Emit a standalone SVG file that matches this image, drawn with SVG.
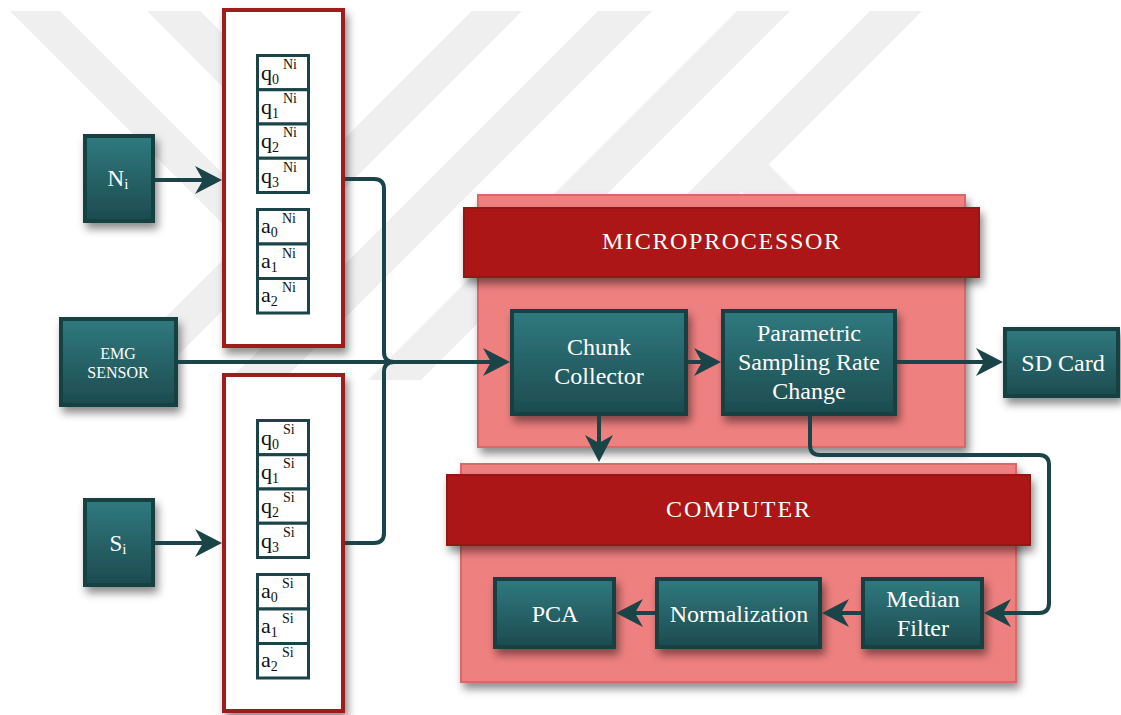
<svg xmlns="http://www.w3.org/2000/svg" width="1121" height="715" viewBox="0 0 1121 715">
  <defs>
    <linearGradient id="tealFill" x1="0" y1="0" x2="0" y2="1">
      <stop offset="0" stop-color="#2f7a7f"/>
      <stop offset="1" stop-color="#1d4b4f"/>
    </linearGradient>
    <filter id="shadow" x="-15%" y="-15%" width="135%" height="145%">
      <feDropShadow dx="3" dy="6" stdDeviation="4" flood-color="#000" flood-opacity="0.45"/>
    </filter>
    <marker id="arrow" markerUnits="userSpaceOnUse" viewBox="-20 -15 30 30" markerWidth="30" markerHeight="30" refX="0" refY="0" orient="auto">
      <path d="M8,0 L-19,-14 L-11,0 L-19,14 Z" fill="#1a4447"/>
    </marker>
  </defs>
  <style>
    .wm { fill: #efefef; }
    .teal { fill: url(#tealFill); stroke: #183f42; stroke-width: 4; }
    .buffer { fill: #ffffff; stroke: #9e1a1a; stroke-width: 4; }
    .cell { fill: #ffffff; stroke: #1a4447; stroke-width: 3; }
    .panel { fill: #ef8080; stroke: #d96767; stroke-width: 2; }
    .header { fill: #ad1616; stroke: #941313; stroke-width: 2; }
    .lbl { font-family: "Liberation Serif", "Times New Roman", serif; fill: #ffffff; text-anchor: middle; font-size: 24px; }
    .lbl.sm { font-size: 16px; }
    .lbl.src { font-size: 23px; }
    .ct { font-family: "Liberation Serif", "Times New Roman", serif; fill: #111111; font-size: 22px; }
    .ct tspan.s { font-size: 14px; }
    .conn { fill: none; stroke: #1a4447; stroke-width: 4; }
  </style>

  <!-- background emblem stripes -->
  <g id="backdrop">
    <rect width="1121" height="715" fill="#ffffff"/>
    <polygon class="wm" points="10,11 60,11 266,217 266,267"/>
    <polygon class="wm" points="147,11 200,11 336,147 334,199"/>
    <polygon class="wm" points="472,11 522,11 153,380 103,380"/>
    <polygon class="wm" points="598,11 652,11 283,380 229,380"/>
    <polygon class="wm" points="737,11 790,11 421,380 368,380"/>
    <polygon class="wm" points="870,11 922,11 553,380 501,380"/>
    <polygon class="wm" points="752,148 904,300 850,300 725,175"/>
  </g>

  <!-- input sources -->
  <g id="node-ni">
    <rect class="teal" x="85" y="136" width="68" height="85" filter="url(#shadow)"/>
    <text class="lbl src" x="118" y="186">N<tspan font-size="15" dy="3">i</tspan></text>
  </g>
  <g id="node-emg">
    <rect class="teal" x="61" y="319" width="115" height="86" filter="url(#shadow)"/>
    <text class="lbl sm" x="118" y="359">EMG</text>
    <text class="lbl sm" x="118" y="378">SENSOR</text>
  </g>
  <g id="node-si">
    <rect class="teal" x="85" y="500" width="68" height="85" filter="url(#shadow)"/>
    <text class="lbl src" x="118" y="551">S<tspan font-size="15" dy="3">i</tspan></text>
  </g>

  <!-- coefficient buffer for N -->
  <g id="node-buffer-ni">
    <rect class="buffer" x="224" y="10" width="119" height="336" filter="url(#shadow)"/>
    <rect class="cell" x="257.5" y="55.5" width="51" height="34.25"/>
    <rect class="cell" x="257.5" y="89.75" width="51" height="34.25"/>
    <rect class="cell" x="257.5" y="124" width="51" height="34.25"/>
    <rect class="cell" x="257.5" y="158.25" width="51" height="34.25"/>
    <rect class="cell" x="257.5" y="209.5" width="51" height="34.5"/>
    <rect class="cell" x="257.5" y="244" width="51" height="34.5"/>
    <rect class="cell" x="257.5" y="278.5" width="51" height="34.5"/>
    <text class="ct" x="261" y="80">q<tspan class="s" dy="4">0</tspan><tspan class="s" x="283" y="69">Ni</tspan></text>
    <text class="ct" x="261" y="114">q<tspan class="s" dy="4">1</tspan><tspan class="s" x="283" y="103">Ni</tspan></text>
    <text class="ct" x="261" y="148">q<tspan class="s" dy="4">2</tspan><tspan class="s" x="283" y="137">Ni</tspan></text>
    <text class="ct" x="261" y="183">q<tspan class="s" dy="4">3</tspan><tspan class="s" x="283" y="172">Ni</tspan></text>
    <text class="ct" x="261" y="233">a<tspan class="s" dy="4">0</tspan><tspan class="s" x="282" y="223">Ni</tspan></text>
    <text class="ct" x="261" y="268">a<tspan class="s" dy="4">1</tspan><tspan class="s" x="282" y="258">Ni</tspan></text>
    <text class="ct" x="261" y="302">a<tspan class="s" dy="4">2</tspan><tspan class="s" x="282" y="292">Ni</tspan></text>
  </g>

  <!-- coefficient buffer for S -->
  <g id="node-buffer-si">
    <rect class="buffer" x="224" y="375" width="119" height="336" filter="url(#shadow)"/>
    <rect class="cell" x="257.5" y="420.5" width="51" height="34.25"/>
    <rect class="cell" x="257.5" y="454.75" width="51" height="34.25"/>
    <rect class="cell" x="257.5" y="489" width="51" height="34.25"/>
    <rect class="cell" x="257.5" y="523.25" width="51" height="34.25"/>
    <rect class="cell" x="257.5" y="574.5" width="51" height="34.5"/>
    <rect class="cell" x="257.5" y="609" width="51" height="34.5"/>
    <rect class="cell" x="257.5" y="643.5" width="51" height="34.5"/>
    <text class="ct" x="261" y="445">q<tspan class="s" dy="4">0</tspan><tspan class="s" x="283" y="434">Si</tspan></text>
    <text class="ct" x="261" y="479">q<tspan class="s" dy="4">1</tspan><tspan class="s" x="283" y="468">Si</tspan></text>
    <text class="ct" x="261" y="513">q<tspan class="s" dy="4">2</tspan><tspan class="s" x="283" y="502">Si</tspan></text>
    <text class="ct" x="261" y="548">q<tspan class="s" dy="4">3</tspan><tspan class="s" x="283" y="537">Si</tspan></text>
    <text class="ct" x="261" y="598">a<tspan class="s" dy="4">0</tspan><tspan class="s" x="282" y="588">Si</tspan></text>
    <text class="ct" x="261" y="633">a<tspan class="s" dy="4">1</tspan><tspan class="s" x="282" y="623">Si</tspan></text>
    <text class="ct" x="261" y="667">a<tspan class="s" dy="4">2</tspan><tspan class="s" x="282" y="657">Si</tspan></text>
  </g>

  <!-- microprocessor stage -->
  <g id="node-microprocessor">
    <rect class="panel" x="478" y="195" width="487" height="252" filter="url(#shadow)"/>
    <rect class="header" x="464" y="208" width="515" height="69" filter="url(#shadow)"/>
    <text class="lbl" x="721" y="249" textLength="238" lengthAdjust="spacing">MICROPROCESSOR</text>
  </g>
  <g id="node-chunk">
    <rect class="teal" x="512" y="311" width="174" height="103" filter="url(#shadow)"/>
    <text class="lbl" x="599" y="355">Chunk</text>
    <text class="lbl" x="599" y="384">Collector</text>
  </g>
  <g id="node-resample">
    <rect class="teal" x="723" y="311" width="172" height="103" filter="url(#shadow)"/>
    <text class="lbl" x="809" y="341">Parametric</text>
    <text class="lbl" x="809" y="370">Sampling Rate</text>
    <text class="lbl" x="809" y="399">Change</text>
  </g>
  <g id="node-sdcard">
    <rect class="teal" x="1005" y="329" width="113" height="67" filter="url(#shadow)"/>
    <text class="lbl" x="1063" y="371">SD Card</text>
  </g>

  <!-- computer stage -->
  <g id="node-computer">
    <rect class="panel" x="461" y="464" width="555" height="218" filter="url(#shadow)"/>
    <rect class="header" x="447" y="475" width="583" height="70" filter="url(#shadow)"/>
    <text class="lbl" x="738" y="517" textLength="144" lengthAdjust="spacing">COMPUTER</text>
  </g>
  <g id="node-pca">
    <rect class="teal" x="495" y="579" width="119" height="68" filter="url(#shadow)"/>
    <text class="lbl" x="555" y="622">PCA</text>
  </g>
  <g id="node-normalization">
    <rect class="teal" x="657" y="579" width="163" height="68" filter="url(#shadow)"/>
    <text class="lbl" x="739" y="622">Normalization</text>
  </g>
  <g id="node-median">
    <rect class="teal" x="863" y="579" width="119" height="68" filter="url(#shadow)"/>
    <text class="lbl" x="923" y="607">Median</text>
    <text class="lbl" x="923" y="636">Filter</text>
  </g>

  <!-- connectors -->
  <g id="connectors">
    <path class="conn" d="M155,180 H214" marker-end="url(#arrow)"/>
    <path class="conn" d="M155,543 H214" marker-end="url(#arrow)"/>
    <path class="conn" d="M345,179 H374 Q384,179 384,189 V352 Q384,362 394,362"/>
    <path class="conn" d="M345,543 H374 Q384,543 384,533 V372 Q384,362 394,362"/>
    <path class="conn" d="M178,362 H502" marker-end="url(#arrow)"/>
    <path class="conn" d="M688,362 H713" marker-end="url(#arrow)"/>
    <path class="conn" d="M897,362 H995" marker-end="url(#arrow)"/>
    <path class="conn" d="M599,416 V454" marker-end="url(#arrow)"/>
    <path class="conn" d="M810,416 V445 Q810,455 820,455 H1039 Q1049,455 1049,465 V603 Q1049,613 1039,613 H992" marker-end="url(#arrow)"/>
    <path class="conn" d="M861,613 H830" marker-end="url(#arrow)"/>
    <path class="conn" d="M655,613 H624" marker-end="url(#arrow)"/>
  </g>
</svg>
